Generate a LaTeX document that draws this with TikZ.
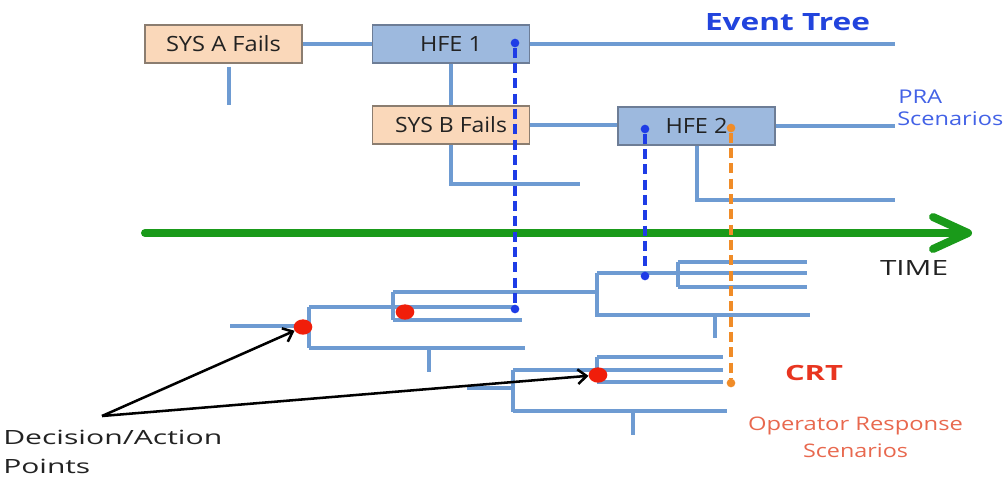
\documentclass[tikz,border=0pt]{standalone}
\usepackage{fontspec}
\setmainfont{Open Sans}
\usepackage{graphicx}
\usetikzlibrary{calc,shapes.geometric,arrows.meta}
\newlength{\pxu}\setlength{\pxu}{0.75pt}
% set a text to a given width (in px units) keeping its height
\newcommand{\fitw}[2]{\resizebox{#1\pxu}{\height}{#2}}
\definecolor{sysfill}{HTML}{FAD8BA}
\definecolor{sysedge}{HTML}{8B7D70}
\definecolor{hfefill}{HTML}{9DB9DE}
\definecolor{hfeedge}{HTML}{6D7D96}
\definecolor{treeblue}{HTML}{6E9BD2}
\definecolor{dashblue}{HTML}{1E3CE6}
\definecolor{dashorange}{HTML}{F08C28}
\definecolor{dotred}{HTML}{F01E0A}
\definecolor{timegreen}{HTML}{1A9A1A}
\definecolor{etblue}{HTML}{2244DD}
\definecolor{prablue}{HTML}{4362E6}
\definecolor{crtred}{HTML}{E83520}
\definecolor{orsalmon}{HTML}{E8684E}
\definecolor{ink}{HTML}{222222}
\begin{document}
\begin{tikzpicture}[x=0.75pt,y=-0.75pt,
  box/.style={line width=1.1pt, minimum width=118pt, minimum height=28.5pt, inner sep=0pt,
    text=ink, font=\fontsize{15.75pt}{18pt}\selectfont},
  sysbox/.style={box, draw=sysedge, fill=sysfill},
  hfebox/.style={box, draw=hfeedge, fill=hfefill},
  tree/.style={draw=treeblue, line width=2.6pt},
  bdash/.style={draw=dashblue, line width=2.8pt, dash pattern=on 7.5pt off 4pt},
  odash/.style={draw=dashorange, line width=2.8pt, dash pattern=on 7.5pt off 4pt},
  bdot/.style={circle, fill=dashblue, inner sep=0pt, minimum size=6.5pt},
  odot/.style={circle, fill=dashorange, inner sep=0pt, minimum size=6.5pt},
  decpt/.style={ellipse, fill=dotred, inner sep=0pt, minimum width=14pt, minimum height=11.5pt},
  pointer/.style={draw=black, line width=1.9pt, -{Straight Barb[length=6.5pt,width=11pt]}},
  lbl/.style={inner sep=0pt},
]
\useasboundingbox (0,0) rectangle (1006,476);

% ---------------- event tree ----------------
\node[sysbox] (sysA) at (223.5,44) {\fitw{115}{SYS A Fails}\hspace{18\pxu}};
\node[hfebox] (hfe1) at (451,44) {\fitw{62}{HFE 1}};
\node[sysbox] (sysB) at (451,125) {\fitw{112}{SYS B Fails}\hspace{20\pxu}};
\node[hfebox] (hfe2) at (696.5,126) {\fitw{62}{HFE 2}};

\coordinate (aEnd) at (229,105);
\coordinate (et1) at (895,44);
\coordinate (bEnd) at (580,184);
\coordinate (et2) at (895,126);
\coordinate (h2End) at (895,200);

\draw[tree] (sysA) -- (hfe1);
\draw[tree] ($(aEnd |- sysA.south)+(0,3)$) -- (aEnd);
\draw[tree] (hfe1.east) -- (et1);
\draw[tree] (hfe1.south) -- (sysB.north);
\draw[tree] (sysB.east) -- (sysB.east -| hfe2.west);
\draw[tree] (sysB.south) |- (bEnd);
\draw[tree] (hfe2.east) -- (et2);
\draw[tree] ($(hfe2.south)+(0.5,0)$) |- (h2End);

\node[lbl, anchor=base, text=etblue, font=\bfseries\fontsize{17.85pt}{20pt}\selectfont] (etl) at (787.5,30) {\fitw{165}{Event Tree}};
\node[lbl, anchor=base west, text=prablue, font=\fontsize{14.2pt}{16pt}\selectfont] (pra1) at (898,103) {\fitw{44}{PRA}};
\node[lbl, anchor=base west, text=prablue, font=\fontsize{14.2pt}{16pt}\selectfont] (pra2) at (897,125) {\fitw{106}{Scenarios}};

% ---------------- time axis ----------------
\coordinate (t0) at (145,233);
\coordinate (t1) at (966,233);
\coordinate (tip) at (968,233);
\coordinate (armU) at (933,217);
\coordinate (armD) at (933,249);
\draw[timegreen, line width=6pt, line cap=round] (t0) -- (t1);
\draw[timegreen, line width=6pt, line cap=round, line join=round] (armU) -- (tip) -- (armD);
\node[lbl, anchor=base, text=ink, font=\fontsize{15.75pt}{18pt}\selectfont] (time) at (914,275) {\fitw{68}{TIME}};

% ---------------- crew response tree ----------------
% upper part
\draw[tree] (230,326) -- (309,326);
\draw[tree] (309,307) -- (309,348);
\draw[tree] (309,307) -- (515,307);
\draw[tree] (309,348) -- (525,348);
\draw[tree] (429,348) -- (429,372);
\draw[tree] (393,292) -- (393,320);
\draw[tree] (393,292) -- (597,292);
\draw[tree] (393,320) -- (522,320);
\draw[tree] (597,273) -- (597,317);
\draw[tree] (597,273) -- (807,273);
\draw[tree] (678,262) -- (678,287);
\draw[tree] (678,262) -- (807,262);
\draw[tree] (678,287) -- (807,287);
\draw[tree] (597,315) -- (810,315);
\draw[tree] (715,315) -- (715,338);
% lower part
\draw[tree] (467,388) -- (513,388);
\draw[tree] (513,370) -- (513,412);
\draw[tree] (513,370) -- (723,370);
\draw[tree] (597,357) -- (597,382);
\draw[tree] (597,357) -- (723,357);
\draw[tree] (597,382) -- (723,382);
\draw[tree] (513,411) -- (727,411);
\draw[tree] (633,411) -- (633,435);

% links between the HFEs and the tree
\node[bdot] (p1) at (515,43) {};
\node[bdot] (q1) at (515,309) {};
\node[bdot] (p2) at (645,129) {};
\node[bdot] (q2) at (645,276) {};
\node[odot] (p3) at (731,128) {};
\node[odot] (q3) at (731,383) {};
\draw[bdash] (p1) -- (q1);
\draw[bdash] (p2) -- (q2);
\draw[odash] (p3) -- (q3);

% decision / action points
\node[decpt] (d1) at (303,327) {};
\node[decpt] (d2) at (405,312) {};
\node[decpt] (d3) at (598,375) {};

\node[lbl, anchor=base, text=crtred, font=\bfseries\fontsize{15.75pt}{18pt}\selectfont] (crt) at (814,380) {\fitw{58}{CRT}};
\node[lbl, anchor=base, text=orsalmon, font=\fontsize{14pt}{16pt}\selectfont] (or1) at (855.5,430) {\fitw{215}{Operator Response}};
\node[lbl, anchor=base, text=orsalmon, font=\fontsize{14pt}{16pt}\selectfont] (or2) at (855.5,457) {\fitw{105}{Scenarios}};

\node[lbl, anchor=base west, text=ink, font=\fontsize{14.7pt}{17pt}\selectfont] (dap1) at (3,444) {\fitw{219}{Decision/Action}};
\node[lbl, anchor=base west, text=ink, font=\fontsize{14.7pt}{17pt}\selectfont] (dap2) at (3,473) {\fitw{87}{Points}};

\coordinate (src) at (102,416);
\draw[pointer] (src) -- (d1);
\draw[pointer] (src) -- (d3);
\end{tikzpicture}
\end{document}
